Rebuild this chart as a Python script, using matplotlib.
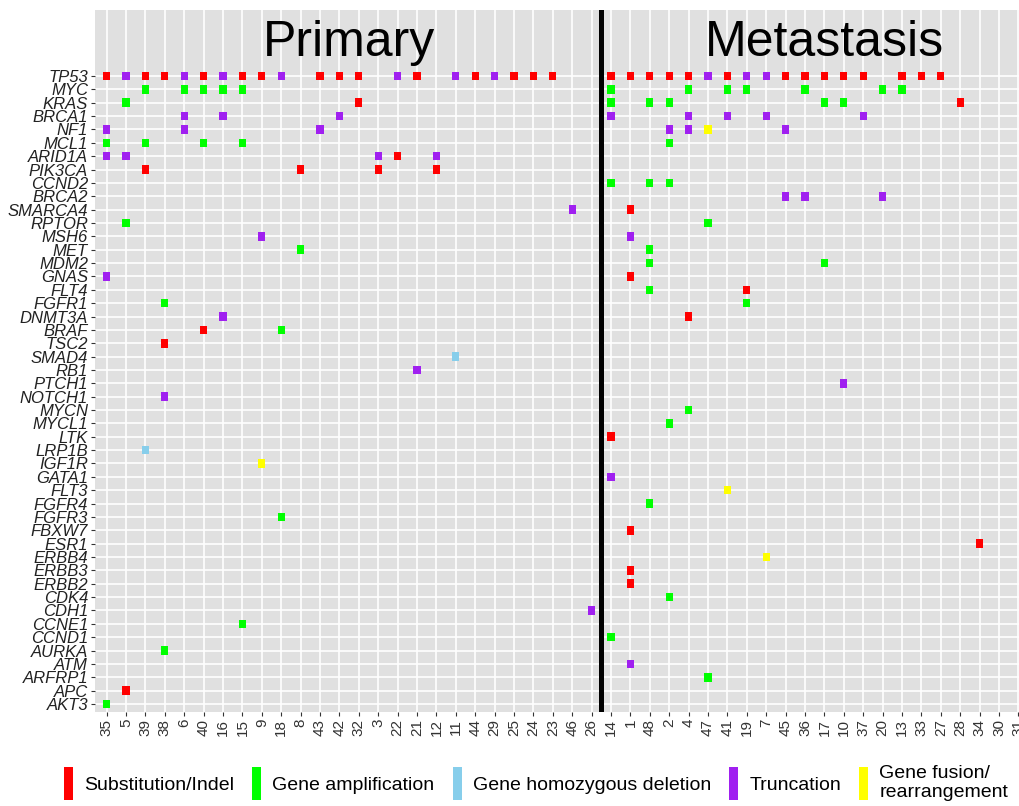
import matplotlib
matplotlib.use("Agg")
import matplotlib.pyplot as plt
from matplotlib.patches import Patch

plt.rcParams['font.family'] = ['Liberation Sans', 'DejaVu Sans']

# sample order on the x axis
primary_samples = [35, 5, 39, 38, 6, 40, 16, 15, 9, 18, 8, 43, 42, 32, 3, 22, 21, 12,
                   11, 44, 29, 25, 24, 23, 46, 26]
metastasis_samples = [14, 1, 48, 2, 4, 47, 41, 19, 7, 45, 36, 17, 10, 37, 20, 13, 33,
                      27, 28, 34, 30, 31]

# genes from top to bottom
genes = ["TP53", "MYC", "KRAS", "BRCA1", "NF1", "MCL1", "ARID1A", "PIK3CA", "CCND2",
         "BRCA2", "SMARCA4", "RPTOR", "MSH6", "MET", "MDM2", "GNAS", "FLT4", "FGFR1",
         "DNMT3A", "BRAF", "TSC2", "SMAD4", "RB1", "PTCH1", "NOTCH1", "MYCN", "MYCL1",
         "LTK", "LRP1B", "IGF1R", "GATA1", "FLT3", "FGFR4", "FGFR3", "FBXW7", "ESR1",
         "ERBB4", "ERBB3", "ERBB2", "CDK4", "CDH1", "CCNE1", "CCND1", "AURKA", "ATM",
         "ARFRP1", "APC", "AKT3"]

# (gene, sample) pairs per alteration type
substitution = [("TP53", s) for s in [35, 39, 38, 40, 15, 9, 43, 42, 32, 21, 44, 25, 24, 23,
                                      14, 1, 48, 2, 4, 41, 45, 36, 17, 10, 37, 13, 33, 27]] + [
    ("KRAS", 32), ("KRAS", 28), ("ARID1A", 22),
    ("PIK3CA", 39), ("PIK3CA", 8), ("PIK3CA", 3), ("PIK3CA", 12),
    ("SMARCA4", 1), ("GNAS", 1), ("FLT4", 19), ("DNMT3A", 4), ("BRAF", 40),
    ("TSC2", 38), ("LTK", 14), ("FBXW7", 1), ("ESR1", 34), ("ERBB3", 1),
    ("ERBB2", 1), ("APC", 5)]

amplification = [("MYC", s) for s in [39, 6, 40, 16, 15, 14, 4, 41, 19, 36, 20, 13]] + [
    ("KRAS", s) for s in [5, 14, 48, 2, 17, 10]] + [
    ("MCL1", s) for s in [35, 39, 40, 15, 2]] + [
    ("CCND2", 14), ("CCND2", 48), ("CCND2", 2), ("RPTOR", 5), ("RPTOR", 47),
    ("MET", 8), ("MET", 48), ("MDM2", 48), ("MDM2", 17), ("FLT4", 48),
    ("FGFR1", 38), ("FGFR1", 19), ("BRAF", 18), ("MYCN", 4), ("MYCL1", 2),
    ("FGFR4", 48), ("FGFR3", 18), ("CDK4", 2), ("CCNE1", 15), ("CCND1", 14),
    ("AURKA", 38), ("ARFRP1", 47), ("AKT3", 35)]

deletion = [("SMAD4", 11), ("LRP1B", 39)]

truncation = [("TP53", s) for s in [5, 6, 16, 18, 22, 11, 29, 47, 19, 7]] + [
    ("BRCA1", s) for s in [6, 16, 42, 14, 4, 41, 7, 37]] + [
    ("NF1", s) for s in [35, 6, 43, 2, 4, 45]] + [
    ("ARID1A", s) for s in [35, 5, 3, 12]] + [
    ("BRCA2", 45), ("BRCA2", 36), ("BRCA2", 20), ("SMARCA4", 46),
    ("MSH6", 9), ("MSH6", 1), ("GNAS", 35), ("DNMT3A", 16), ("RB1", 21),
    ("PTCH1", 10), ("NOTCH1", 38), ("GATA1", 14), ("CDH1", 26), ("ATM", 1)]

fusion = [("NF1", 47), ("IGF1R", 9), ("FLT3", 41), ("ERBB4", 7)]

categories = ["Substitution/Indel", "Gene amplification", "Gene homozygous deletion",
              "Truncation", "Gene fusion/\nrearrangement"]
colors = ["#ff0000", "#00ff00", "#87ceeb", "#a020f0", "#ffff00"]
groups = [substitution, amplification, deletion, truncation, fusion]

samples = primary_samples + metastasis_samples
col_of = {s: i for i, s in enumerate(samples)}
row_of = {g: len(genes) - 1 - i for i, g in enumerate(genes)}

fig = plt.figure(figsize=(10.19, 8.06), dpi=100)
ax = fig.add_axes([95 / 1019, 1 - 712 / 806, 935 / 1019, 702 / 806])
ax.set_facecolor("#e0e0e0")
for sp in ax.spines.values():
    sp.set_visible(False)

w, h = 0.37, 0.64
for pairs, c in zip(groups, colors):
    xs = [col_of[s] for g, s in pairs]
    ys = [row_of[g] - h / 2 for g, s in pairs]
    ax.bar(xs, h, width=w, bottom=ys, color=c, zorder=3)

ax.axvline(len(primary_samples) - 0.5, color="black", lw=3.6, zorder=4)

ax.text((len(primary_samples) - 1) / 2, 48.5, "Primary", ha="center", va="baseline",
        fontsize=36)
ax.text(37, 48.5, "Metastasis", ha="center", va="baseline", fontsize=36)

ax.set_xlim(-0.6, len(samples) - 0.4)
ax.set_ylim(-0.6, 51.94)
ax.set_xticks(range(len(samples)))
ax.set_xticklabels([str(s) for s in samples], rotation=90, fontsize=11, color="#333333")
ax.set_yticks([row_of[g] for g in genes])
ax.set_yticklabels(genes, fontsize=12, style="italic", color="#222222")
ax.tick_params(length=3, width=0.8, color="#333333", pad=2)
ax.set_axisbelow(True)
ax.grid(True, color="white", lw=1.2)

handles = [Patch(facecolor=c, edgecolor="none") for c in colors]
fig.legend(handles, categories, loc="center left", bbox_to_anchor=(64 / 1019, 1 - 783 / 806),
           ncol=5, frameon=False, fontsize=14, handlelength=0.47, handleheight=2.3,
           handletextpad=0.55, columnspacing=0.95, borderpad=0, borderaxespad=0,
           labelspacing=0.2)

fig.savefig("out.png", dpi=100)
